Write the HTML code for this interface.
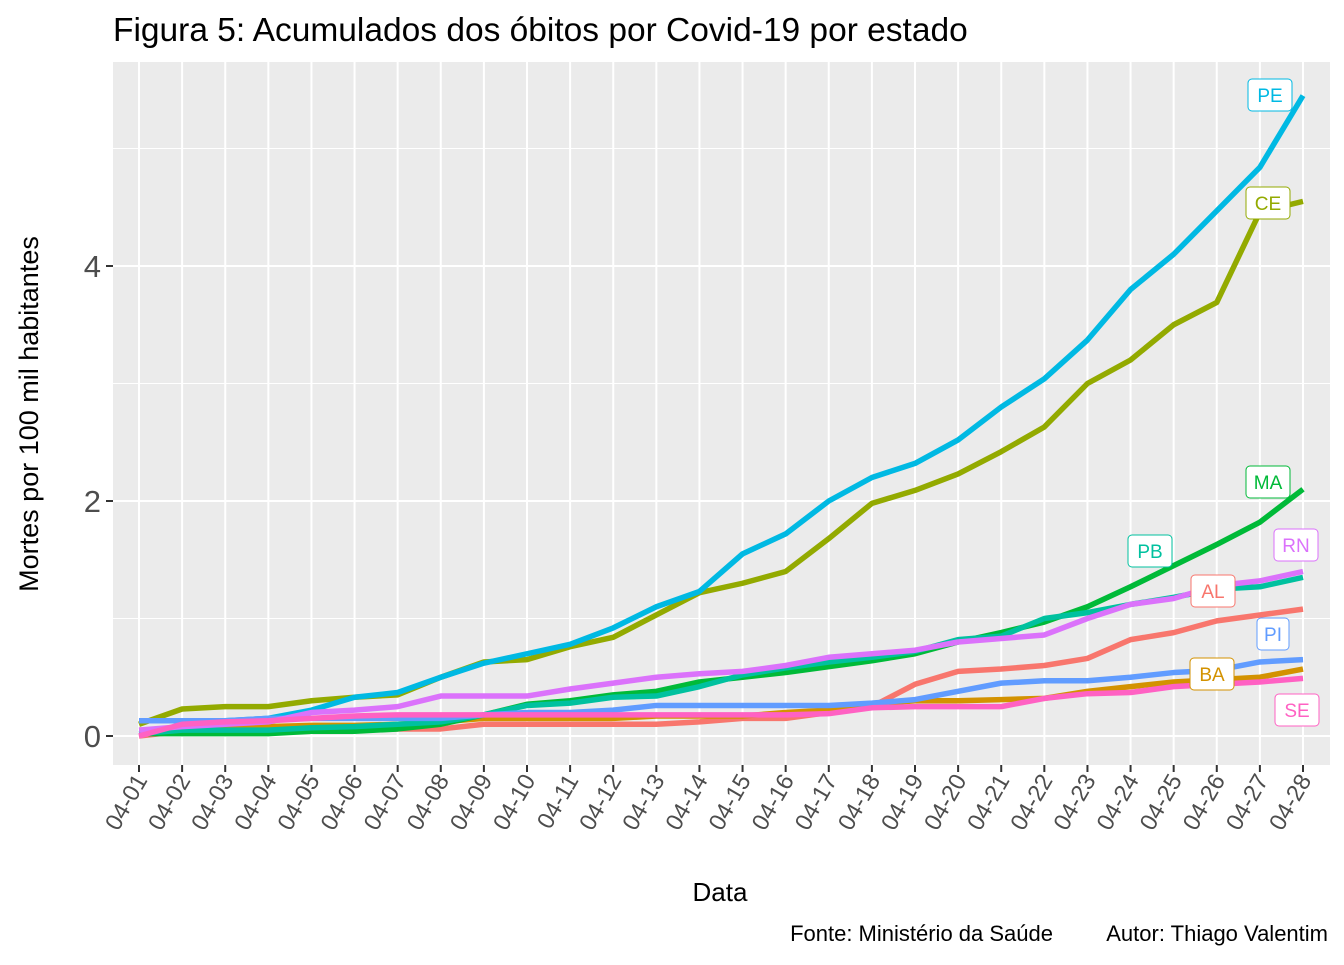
<!DOCTYPE html>
<html><head><meta charset="utf-8"><style>
body{margin:0;background:#fff;font-family:"Liberation Sans",sans-serif}
</style></head><body>
<svg id="c" width="1344" height="960" xmlns="http://www.w3.org/2000/svg" font-family="Liberation Sans, sans-serif">
<text x="113" y="41" font-size="33.5" fill="#000">Figura 5: Acumulados dos óbitos por Covid-19 por estado</text>
<rect x="113" y="62" width="1217" height="703" fill="#ebebeb"/>
<g id="grid"></g><g id="lines"></g><g id="labels"></g><g id="axes"></g>
<text x="720" y="901" font-size="26" text-anchor="middle">Data</text>
<text transform="translate(38,414) rotate(-90)" font-size="27" text-anchor="middle">Mortes por 100 mil habitantes</text>
<text x="1053" y="941" font-size="22" text-anchor="end">Fonte: Ministério da Saúde</text>
<text x="1328" y="941" font-size="22" text-anchor="end">Autor: Thiago Valentim</text>
</svg>
<script>
const days=["04-01","04-02","04-03","04-04","04-05","04-06","04-07","04-08","04-09","04-10","04-11","04-12","04-13","04-14","04-15","04-16","04-17","04-18","04-19","04-20","04-21","04-22","04-23","04-24","04-25","04-26","04-27","04-28"];
const yTicks=[0,2,4];
const states=["AL","BA","CE","MA","PB","PE","PI","RN","SE"];
const AL=[0.0,0.04,0.04,0.04,0.05,0.05,0.06,0.06,0.1,0.1,0.1,0.1,0.1,0.12,0.15,0.15,0.2,0.25,0.44,0.55,0.57,0.6,0.66,0.82,0.88,0.98,1.03,1.08];
const BA=[0.05,0.05,0.07,0.08,0.09,0.09,0.1,0.12,0.15,0.15,0.15,0.15,0.17,0.17,0.17,0.2,0.22,0.27,0.3,0.3,0.31,0.32,0.38,0.42,0.46,0.48,0.5,0.57];
const CE=[0.1,0.23,0.25,0.25,0.3,0.33,0.35,0.5,0.63,0.65,0.76,0.84,1.03,1.22,1.3,1.4,1.68,1.98,2.09,2.23,2.42,2.63,3.0,3.2,3.5,3.69,4.46,4.55];
const MA=[0.02,0.02,0.02,0.02,0.04,0.04,0.06,0.1,0.18,0.27,0.3,0.35,0.38,0.46,0.5,0.54,0.59,0.64,0.7,0.8,0.88,0.97,1.1,1.27,1.45,1.63,1.82,2.1];
const PB=[0.02,0.05,0.05,0.05,0.07,0.08,0.1,0.12,0.18,0.26,0.28,0.33,0.34,0.42,0.52,0.58,0.63,0.67,0.72,0.82,0.85,1.0,1.05,1.12,1.18,1.25,1.27,1.35];
const PE=[0.13,0.13,0.13,0.15,0.22,0.33,0.37,0.5,0.62,0.7,0.78,0.92,1.1,1.23,1.55,1.72,2.0,2.2,2.32,2.52,2.8,3.04,3.37,3.8,4.1,4.47,4.84,5.45];
const PI=[0.13,0.13,0.13,0.15,0.15,0.15,0.15,0.15,0.18,0.2,0.2,0.22,0.26,0.26,0.26,0.26,0.26,0.28,0.31,0.38,0.45,0.47,0.47,0.5,0.54,0.56,0.63,0.65];
const RN=[0.05,0.08,0.1,0.12,0.2,0.22,0.25,0.34,0.34,0.34,0.4,0.45,0.5,0.53,0.55,0.6,0.67,0.7,0.73,0.8,0.83,0.86,1.0,1.12,1.17,1.28,1.32,1.4];
const SE=[0.0,0.1,0.12,0.13,0.15,0.17,0.18,0.18,0.18,0.18,0.18,0.18,0.18,0.18,0.18,0.18,0.19,0.24,0.25,0.25,0.25,0.32,0.36,0.37,0.42,0.44,0.46,0.49];
const series={AL,BA,CE,MA,PB,PE,PI,RN,SE};
const colors={AL:"#F8766D",BA:"#D39200",CE:"#93AA00",MA:"#00BA38",PB:"#00C19F",PE:"#00B9E3",PI:"#619CFF",RN:"#DB72FB",SE:"#FF61C3"};
const labelPos={AL:[1213,591],BA:[1212,674],CE:[1268,203],MA:[1268,482],PB:[1150,551],PE:[1270,95],PI:[1273,634],RN:[1296,545],SE:[1297,710]};
const NS="http://www.w3.org/2000/svg";
const X=i=>139+i*(1303-139)/(days.length-1);
const Y=v=>736-v*117.5;
function mk(t,a,p){const e=document.createElementNS(NS,t);for(const k in a)e.setAttribute(k,a[k]);p.appendChild(e);return e;}
const grid=document.getElementById('grid'),lines=document.getElementById('lines'),labels=document.getElementById('labels'),axes=document.getElementById('axes');
[1,3,5].forEach(v=>{const l=mk('line',{x1:113,x2:1330,y1:Y(v),y2:Y(v),stroke:"#fff","stroke-width":1},grid);

});
yTicks.forEach(v=>{const l=mk('line',{x1:113,x2:1330,y1:Y(v),y2:Y(v),stroke:"#fff","stroke-width":2},grid);


mk('line',{x1:106,x2:113,y1:Y(v),y2:Y(v),stroke:"#333","stroke-width":2},axes);
const t=mk('text',{x:101,y:Y(v)+11,"font-size":31,fill:"#4d4d4d","text-anchor":"end"},axes);t.textContent=v;

});
days.forEach((d,i)=>{const l=mk('line',{x1:X(i),x2:X(i),y1:62,y2:765,stroke:"#fff","stroke-width":2},grid);


mk('line',{x1:X(i),x2:X(i),y1:765,y2:772,stroke:"#333","stroke-width":2},axes);
const t=mk('text',{transform:`translate(${X(i)+9},${780}) rotate(-60)`,"font-size":23.5,fill:"#4d4d4d","text-anchor":"end"},axes);t.textContent=d;

});
states.forEach(s=>{const pts=series[s].map((v,i)=>X(i)+","+Y(v)).join(" ");
const p=mk('polyline',{points:pts,fill:"none",stroke:colors[s],"stroke-width":5.5,"stroke-linejoin":"round"},lines);

});
states.forEach(s=>{const [cx,cy]=labelPos[s];const w=s==="PI"?32:44;
const g=mk('g',{},labels);


mk('rect',{x:cx-w/2,y:cy-16,width:w,height:32,rx:4,fill:"#fff",stroke:colors[s],"stroke-width":1},g);
const t=mk('text',{x:cx,y:cy+7,"font-size":19,fill:colors[s],"text-anchor":"middle"},g);t.textContent=s;});
</script>
</body></html>
